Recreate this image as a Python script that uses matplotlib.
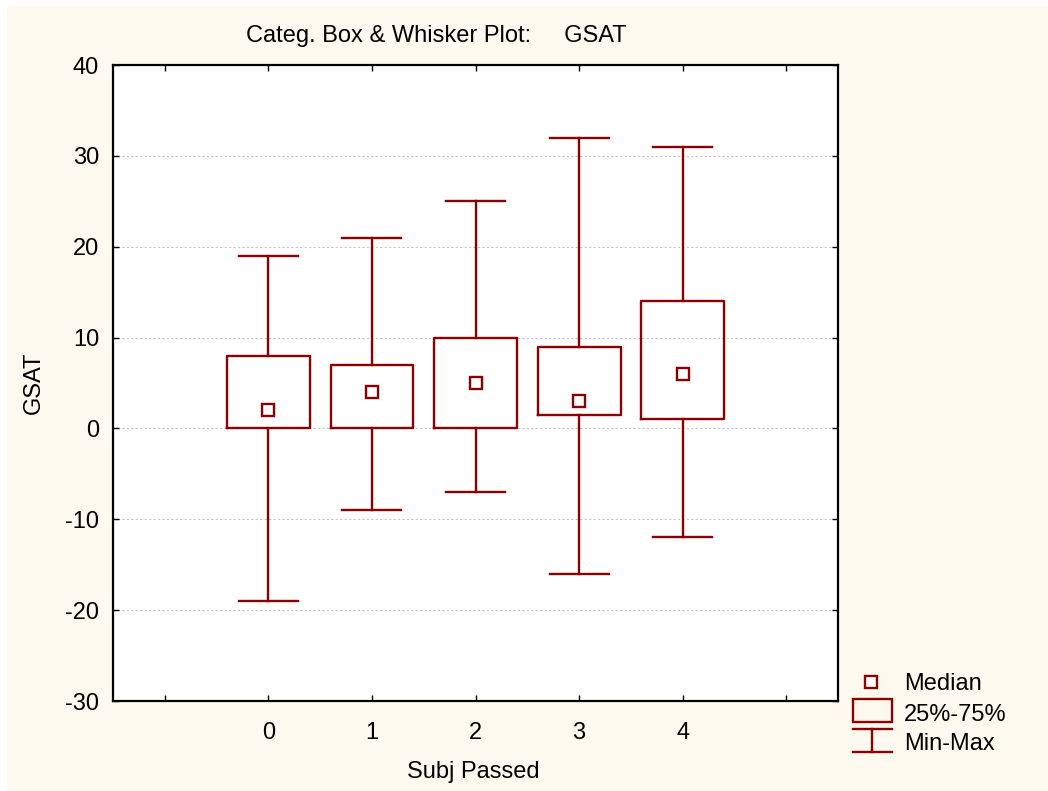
import matplotlib
matplotlib.use("Agg")
import matplotlib.pyplot as plt
from matplotlib.lines import Line2D
from matplotlib.patches import Rectangle

plt.rcParams['font.family'] = ['Liberation Sans', 'DejaVu Sans']

# ---- data ----
categories = ["0", "1", "2", "3", "4"]
mins    = [-19, -9, -7, -16, -12]
q1s     = [0, 0, 0, 1.5, 1]
medians = [2, 4, 5, 3, 6]
q3s     = [8, 7, 10, 9, 14]
maxs    = [19, 21, 25, 32, 31]
yticks  = [-30, -20, -10, 0, 10, 20, 30, 40]

title = "Categ. Box & Whisker Plot:     GSAT"
xlabel = "Subj Passed"
ylabel = "GSAT"
legend_labels = ["Median", "25%-75%", "Min-Max"]

RED = "#8b0000"
CREAM = "#fdf9ef"
W, H = 1048, 791
FS = 17

fig = plt.figure(figsize=(W / 100, H / 100), dpi=100)
fig.patch.set_facecolor("white")
fig.add_artist(Rectangle((7 / W, 0), 1 - 7 / W, 1 - 6 / H, transform=fig.transFigure,
                         facecolor=CREAM, edgecolor="none", zorder=-10))

ax = fig.add_axes([113 / W, 1 - 701 / H, (838 - 113) / W, (701 - 65) / H])
ax.set_facecolor("white")

positions = list(range(len(categories)))
stats = []
for i in positions:
    stats.append(dict(med=medians[i], q1=q1s[i], q3=q3s[i],
                      whislo=mins[i], whishi=maxs[i], fliers=[]))

ax.bxp(stats, positions=positions, widths=0.8, capwidths=0.57,
       showfliers=False, patch_artist=False,
       boxprops=dict(color=RED, linewidth=1.7),
       whiskerprops=dict(color=RED, linewidth=1.7),
       capprops=dict(color=RED, linewidth=1.7),
       medianprops=dict(linestyle="none"), zorder=3)
ax.plot(positions, medians, linestyle="none", marker="s", markersize=8,
        markerfacecolor="white", markeredgecolor=RED, markeredgewidth=1.7, zorder=4)

ax.set_xlim(-1.5, 5.5)
ax.set_ylim(-30, 40)
ax.set_yticks(yticks)
ax.set_yticklabels([str(v) for v in yticks])
ax.set_xticks([-1] + positions + [5])
ax.set_xticklabels([""] + categories + [""])

ax.yaxis.grid(True, linestyle=(0, (2, 2)), color="#c4c4c4", linewidth=0.8)
ax.set_axisbelow(True)
for s in ax.spines.values():
    s.set_linewidth(1.6)
    s.set_color("black")
ax.tick_params(axis="both", direction="in", top=True, right=True, length=4,
               width=1.0, labelsize=FS, colors="black")
ax.tick_params(axis="x", pad=15)
ax.tick_params(axis="y", pad=10)

fig.text(436 / W, 1 - 36 / H, title, ha="center", va="center", fontsize=FS)
fig.text(473 / W, 1 - 772 / H, xlabel, ha="center", va="center", fontsize=FS)
fig.text(34 / W, 1 - 383 / H, ylabel, ha="center", va="center", fontsize=FS,
         rotation=90)

# ---- legend (drawn in figure pixel space) ----
def fx(x):
    return x / W

def fy(y):
    return 1 - y / H

fig.add_artist(Line2D([fx(871)], [fy(682)], transform=fig.transFigure, linestyle="none",
                      marker="s", markersize=8, markerfacecolor="white",
                      markeredgecolor=RED, markeredgewidth=1.7))
fig.add_artist(Rectangle((fx(853), fy(722)), (892 - 853) / W, (722 - 699) / H,
                         transform=fig.transFigure, facecolor="none",
                         edgecolor=RED, linewidth=1.7))
fig.add_artist(Line2D([fx(853), fx(892)], [fy(729), fy(729)], transform=fig.transFigure,
                      color=RED, linewidth=1.7))
fig.add_artist(Line2D([fx(853), fx(892)], [fy(752), fy(752)], transform=fig.transFigure,
                      color=RED, linewidth=1.7))
fig.add_artist(Line2D([fx(872), fx(872)], [fy(729), fy(752)], transform=fig.transFigure,
                      color=RED, linewidth=1.7))
for lab, yy in zip(legend_labels, [684, 715, 744]):
    fig.text(fx(904), fy(yy), lab, ha="left", va="center", fontsize=FS)

fig.savefig("out.png", dpi=100, facecolor=fig.get_facecolor())
